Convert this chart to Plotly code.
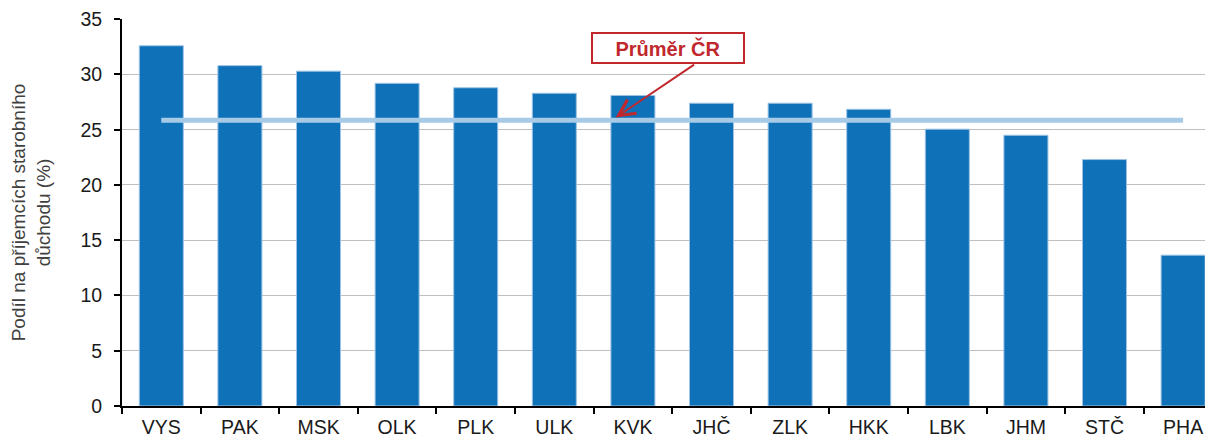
import plotly.graph_objects as go

kraje = ["VYS", "PAK", "MSK", "OLK", "PLK", "ULK", "KVK", "JHČ", "ZLK", "HKK", "LBK", "JHM", "STČ", "PHA"]
podil = [32.6, 30.8, 30.3, 29.2, 28.8, 28.3, 28.1, 27.4, 27.4, 26.85, 25.05, 24.5, 22.3, 13.65]
prumer_cr = 25.85

fig = go.Figure()

fig.add_trace(go.Bar(x=kraje, y=podil,
                     marker=dict(color="#0f72b9", line=dict(color="#9cc3e6", width=1)),
                     showlegend=False))

fig.add_trace(go.Scatter(x=kraje, y=[prumer_cr] * len(kraje), mode="lines",
                         line=dict(color="#a7cbe7", width=5),
                         showlegend=False))

# popisek s rámečkem
fig.add_annotation(x=6.45, y=32.4, xref="x", yref="y", text="<b>Průměr ČR</b>",
                   showarrow=False, font=dict(family="Liberation Sans", size=20, color="#c0282d"),
                   bgcolor="white", bordercolor="#c0282d", borderwidth=2,
                   width=148, height=26)
# sipka k prumeru
fig.add_annotation(x=5.78, y=26.1, xref="x", yref="y", text="",
                   showarrow=True, arrowhead=5, arrowsize=1.6, arrowwidth=2,
                   arrowcolor="#c0282d", ax=80, ay=-54)

# stranka ma okraj 8 px, proto mensi rozmery a okraje
fig.update_layout(
    width=1205, height=433,
    margin=dict(l=114, r=0, t=11, b=35),
    plot_bgcolor="white", paper_bgcolor="white",
    bargap=0.44,
    font=dict(family="Liberation Sans", size=19.5, color="#1a1a1a"),
    xaxis=dict(range=[-0.5, 13.38], tickson="boundaries", ticks="outside", ticklen=6,
               tickcolor="black", tickwidth=1.5, showline=True, linecolor="black", linewidth=2,
               showgrid=False, ticklabelstandoff=3),
    yaxis=dict(range=[0, 35.02], tickvals=[0, 5, 10, 15, 20, 25, 30, 35],
               ticks="outside", ticklen=6, tickcolor="black", tickwidth=1.5,
               showline=True, linecolor="black", linewidth=2,
               showgrid=True, gridcolor="#bfbfbf", gridwidth=1.3, zeroline=False,
               ticklabelstandoff=8, ticklabeloverflow="allow",
               title=dict(text="Podíl na příjemcích starobního<br>důchodu (%)",
                          font=dict(size=19, color="#404040"), standoff=28)),
)

fig.write_html("out.html")
